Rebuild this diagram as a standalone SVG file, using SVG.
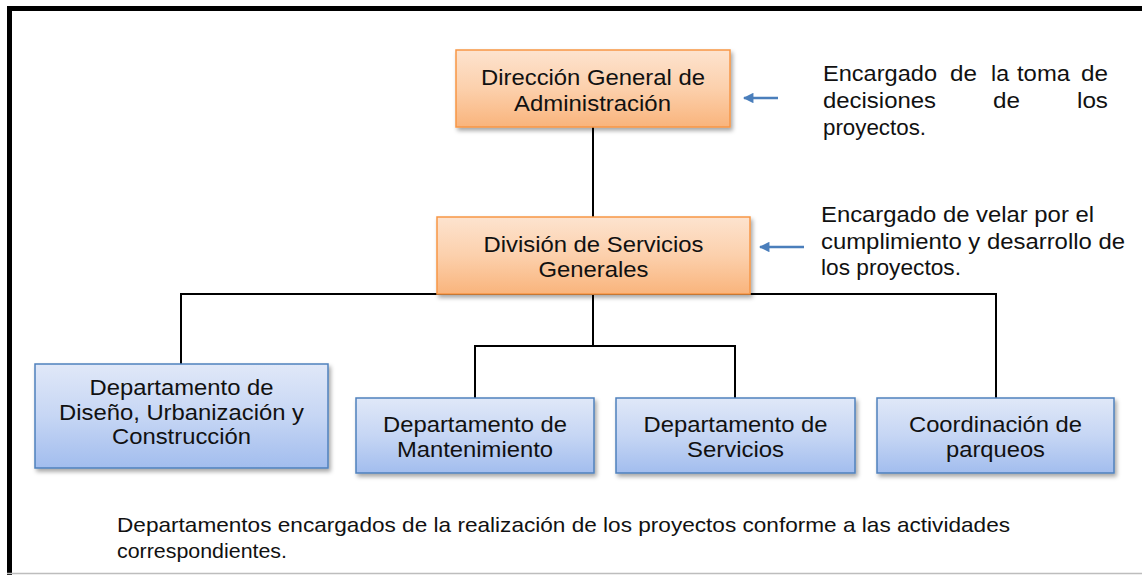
<svg xmlns="http://www.w3.org/2000/svg" width="1142" height="575" viewBox="0 0 1142 575">
  <defs>
    <linearGradient id="gOrange" x1="0" y1="0" x2="0" y2="1">
      <stop offset="0" stop-color="#fde3cf"/>
      <stop offset="0.5" stop-color="#fcd0ac"/>
      <stop offset="1" stop-color="#f9b47c"/>
    </linearGradient>
    <linearGradient id="gBlue" x1="0" y1="0" x2="0" y2="1">
      <stop offset="0" stop-color="#e0e8f8"/>
      <stop offset="0.5" stop-color="#c6d6f4"/>
      <stop offset="1" stop-color="#a2bdee"/>
    </linearGradient>
    <filter id="shadow" x="-10%" y="-10%" width="125%" height="135%">
      <feDropShadow dx="2" dy="3" stdDeviation="2" flood-color="#000" flood-opacity="0.35"/>
    </filter>
    <marker id="arrowBlue" viewBox="0 0 10 10" refX="9" refY="5" markerWidth="4.4" markerHeight="4.2" orient="auto" markerUnits="strokeWidth">
      <path d="M0,0 L10,5 L0,10 z" fill="#4a7ebb"/>
    </marker>
  </defs>
  <style>
    .orange { fill: url(#gOrange); stroke: #f79646; stroke-width: 1.5; filter: url(#shadow); }
    .blue { fill: url(#gBlue); stroke: #4f81bd; stroke-width: 1.5; filter: url(#shadow); }
    .lbl { font-family: "Liberation Sans", Arial, sans-serif; font-size: 22px; fill: #111; }
    .note { font-family: "Liberation Sans", Arial, sans-serif; font-size: 22px; fill: #111; }
    .foot { font-family: "Liberation Sans", Arial, sans-serif; font-size: 21px; fill: #111; }
    .conn { stroke: #000; stroke-width: 2; fill: none; }
    .arrow { stroke: #4a7ebb; stroke-width: 2.5; fill: none; marker-end: url(#arrowBlue); }
  </style>

  <rect width="1142" height="575" fill="#ffffff"/>

  <!-- frame -->
  <g id="frame">
    <line x1="7" y1="8.5" x2="1142" y2="8.5" stroke="#000" stroke-width="5"/>
    <line x1="9.5" y1="6" x2="9.5" y2="575" stroke="#000" stroke-width="5"/>
    <line x1="7" y1="573.5" x2="1142" y2="573.5" stroke="#bdbdbd" stroke-width="1.5"/>
  </g>

  <!-- connectors -->
  <g id="connectors">
    <line class="conn" x1="593" y1="127" x2="593" y2="217"/>
    <polyline class="conn" points="181,364 181,294 996,294 996,398"/>
    <line class="conn" x1="593" y1="294" x2="593" y2="346"/>
    <polyline class="conn" points="475,398 475,346 735,346 735,398"/>
    <line class="arrow" x1="778" y1="98" x2="744" y2="98"/>
    <line class="arrow" x1="804" y1="247" x2="760" y2="247"/>
  </g>

  <g id="node-direccion">
    <rect class="orange" x="456" y="50" width="274" height="77"/>
    <text class="lbl" x="481" y="85" textLength="224" lengthAdjust="spacingAndGlyphs">Dirección General de</text>
    <text class="lbl" x="514" y="111" textLength="157" lengthAdjust="spacingAndGlyphs">Administración</text>
  </g>

  <g id="node-division">
    <rect class="orange" x="437" y="217" width="313" height="77"/>
    <text class="lbl" x="483.5" y="252" textLength="220" lengthAdjust="spacingAndGlyphs">División de Servicios</text>
    <text class="lbl" x="538.5" y="277" textLength="110" lengthAdjust="spacingAndGlyphs">Generales</text>
  </g>

  <g id="node-diseno">
    <rect class="blue" x="35" y="364" width="293" height="104"/>
    <text class="lbl" x="89.5" y="395" textLength="184" lengthAdjust="spacingAndGlyphs">Departamento de</text>
    <text class="lbl" x="59" y="420" textLength="245" lengthAdjust="spacingAndGlyphs">Diseño, Urbanización y</text>
    <text class="lbl" x="112" y="444" textLength="139" lengthAdjust="spacingAndGlyphs">Construcción</text>
  </g>

  <g id="node-mantenimiento">
    <rect class="blue" x="356" y="398" width="238" height="75"/>
    <text class="lbl" x="383" y="432" textLength="184" lengthAdjust="spacingAndGlyphs">Departamento de</text>
    <text class="lbl" x="397" y="457" textLength="156" lengthAdjust="spacingAndGlyphs">Mantenimiento</text>
  </g>

  <g id="node-servicios">
    <rect class="blue" x="616" y="398" width="239" height="75"/>
    <text class="lbl" x="643.5" y="432" textLength="184" lengthAdjust="spacingAndGlyphs">Departamento de</text>
    <text class="lbl" x="687" y="457" textLength="97" lengthAdjust="spacingAndGlyphs">Servicios</text>
  </g>

  <g id="node-parqueos">
    <rect class="blue" x="877" y="398" width="237" height="75"/>
    <text class="lbl" x="909" y="432" textLength="173" lengthAdjust="spacingAndGlyphs">Coordinación de</text>
    <text class="lbl" x="946" y="457" textLength="99" lengthAdjust="spacingAndGlyphs">parqueos</text>
  </g>

  <g id="note-direccion">
    <text class="note" x="823" y="81" textLength="114" lengthAdjust="spacingAndGlyphs">Encargado</text>
    <text class="note" x="950" y="81" textLength="27" lengthAdjust="spacingAndGlyphs">de</text>
    <text class="note" x="991" y="81" textLength="18" lengthAdjust="spacingAndGlyphs">la</text>
    <text class="note" x="1017" y="81" textLength="53" lengthAdjust="spacingAndGlyphs">toma</text>
    <text class="note" x="1081" y="81" textLength="27" lengthAdjust="spacingAndGlyphs">de</text>
    <text class="note" x="823" y="108" textLength="113" lengthAdjust="spacingAndGlyphs">decisiones</text>
    <text class="note" x="993" y="108" textLength="27" lengthAdjust="spacingAndGlyphs">de</text>
    <text class="note" x="1077" y="108" textLength="31" lengthAdjust="spacingAndGlyphs">los</text>
    <text class="note" x="823" y="135" textLength="103" lengthAdjust="spacingAndGlyphs">proyectos.</text>
  </g>

  <g id="note-division">
    <text class="note" x="821" y="222" textLength="273" lengthAdjust="spacingAndGlyphs">Encargado de velar por el</text>
    <text class="note" x="821" y="249" textLength="304" lengthAdjust="spacingAndGlyphs">cumplimiento y desarrollo de</text>
    <text class="note" x="821" y="275" textLength="140" lengthAdjust="spacingAndGlyphs">los proyectos.</text>
  </g>

  <g id="note-departamentos">
    <text class="foot" x="117" y="532" textLength="893" lengthAdjust="spacingAndGlyphs">Departamentos encargados de la realización de los proyectos conforme a las actividades</text>
    <text class="foot" x="117" y="558" textLength="170" lengthAdjust="spacingAndGlyphs">correspondientes.</text>
  </g>
</svg>
